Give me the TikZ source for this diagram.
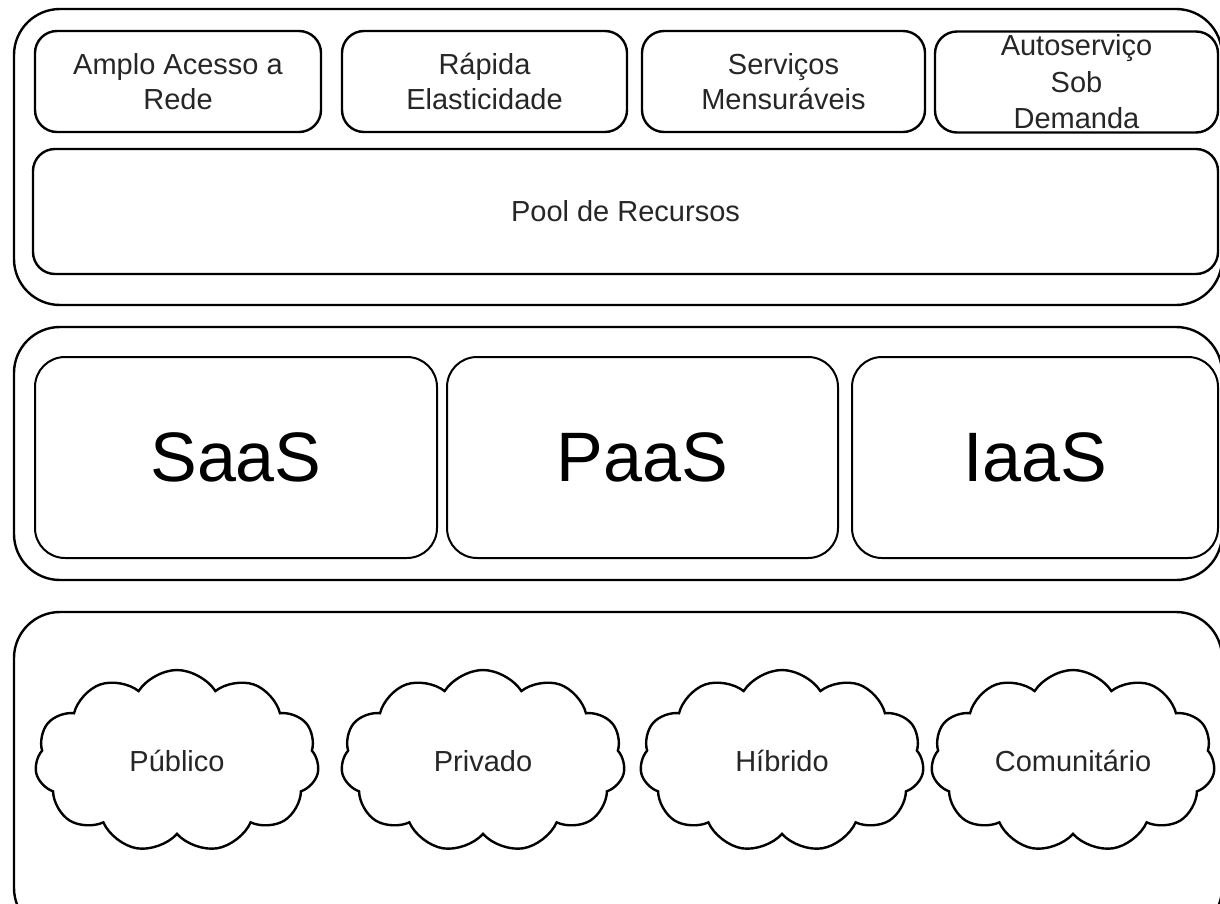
\documentclass[tikz,border=0pt]{standalone}
\usepackage{fontspec}
\setmainfont{Liberation Sans}
\usetikzlibrary{shapes.symbols}
\tikzset{
  frame/.style={draw,line width=2.4pt,rounded corners=46pt,inner sep=0pt},
  card/.style={draw,line width=2.4pt,rounded corners=22pt,inner sep=0pt,align=center,text=black!85,font=\fontsize{29}{35}\selectfont},
  bigcard/.style={card,line width=2pt,rounded corners=30pt,text=black,font=\fontsize{70}{80}\selectfont},
  nuvem/.style={draw,cloud,cloud puffs=11,cloud puff arc=115,line width=2.4pt,minimum width=284pt,minimum height=182pt,inner sep=0pt},
  nuvemtxt/.style={text=black!85,font=\fontsize{29}{34}\selectfont},
}
\begin{document}
\begin{tikzpicture}[x=1pt,y=-1pt]
  \useasboundingbox (0,0) rectangle (1220,904);
  \clip (0,0) rectangle (1220,904);
  % three frames
  \node[frame,minimum width=1208pt,minimum height=296pt] (caract) at (618,157) {};
  \node[frame,minimum width=1208pt,minimum height=253pt] (modelos) at (618,453.5) {};
  \node[frame,minimum width=1208pt,minimum height=322pt] (implant) at (618,773) {};
  % characteristics
  \node[card,minimum width=286pt,minimum height=101pt] (acesso) at (178,81.5) {Amplo Acesso a\\Rede};
  \node[card,minimum width=285pt,minimum height=101pt] (elastic) at (484.5,81.5) {Rápida\\Elasticidade};
  \node[card,minimum width=283pt,minimum height=101pt] (servicos) at (783.5,81.5) {Serviços\\Mensuráveis};
  \node[card,minimum width=283pt,minimum height=101pt,font=\fontsize{29}{36.5}\selectfont] (autoserv) at (1076.5,82) {Autoserviço\\Sob\\Demanda};
  \node[card,minimum width=1185pt,minimum height=125pt] (pool) at (625.5,211.5) {Pool de Recursos};
  % service models
  \node[bigcard,minimum width=402pt,minimum height=201pt] (saas) at (236,457.5) {SaaS};
  \node[bigcard,minimum width=391pt,minimum height=201pt] (paas) at (642.5,457.5) {PaaS};
  \node[bigcard,minimum width=366pt,minimum height=201pt] (iaas) at (1035,457.5) {IaaS};
  % deployment models
  \node[nuvem,label={[nuvemtxt]center:Público}] (publico) at (177,761) {};
  \node[nuvem,label={[nuvemtxt]center:Privado}] (privado) at (483,761) {};
  \node[nuvem,label={[nuvemtxt]center:Híbrido}] (hibrido) at (782,761) {};
  \node[nuvem,label={[nuvemtxt]center:Comunitário}] (comunit) at (1073,761) {};
\end{tikzpicture}
\end{document}
